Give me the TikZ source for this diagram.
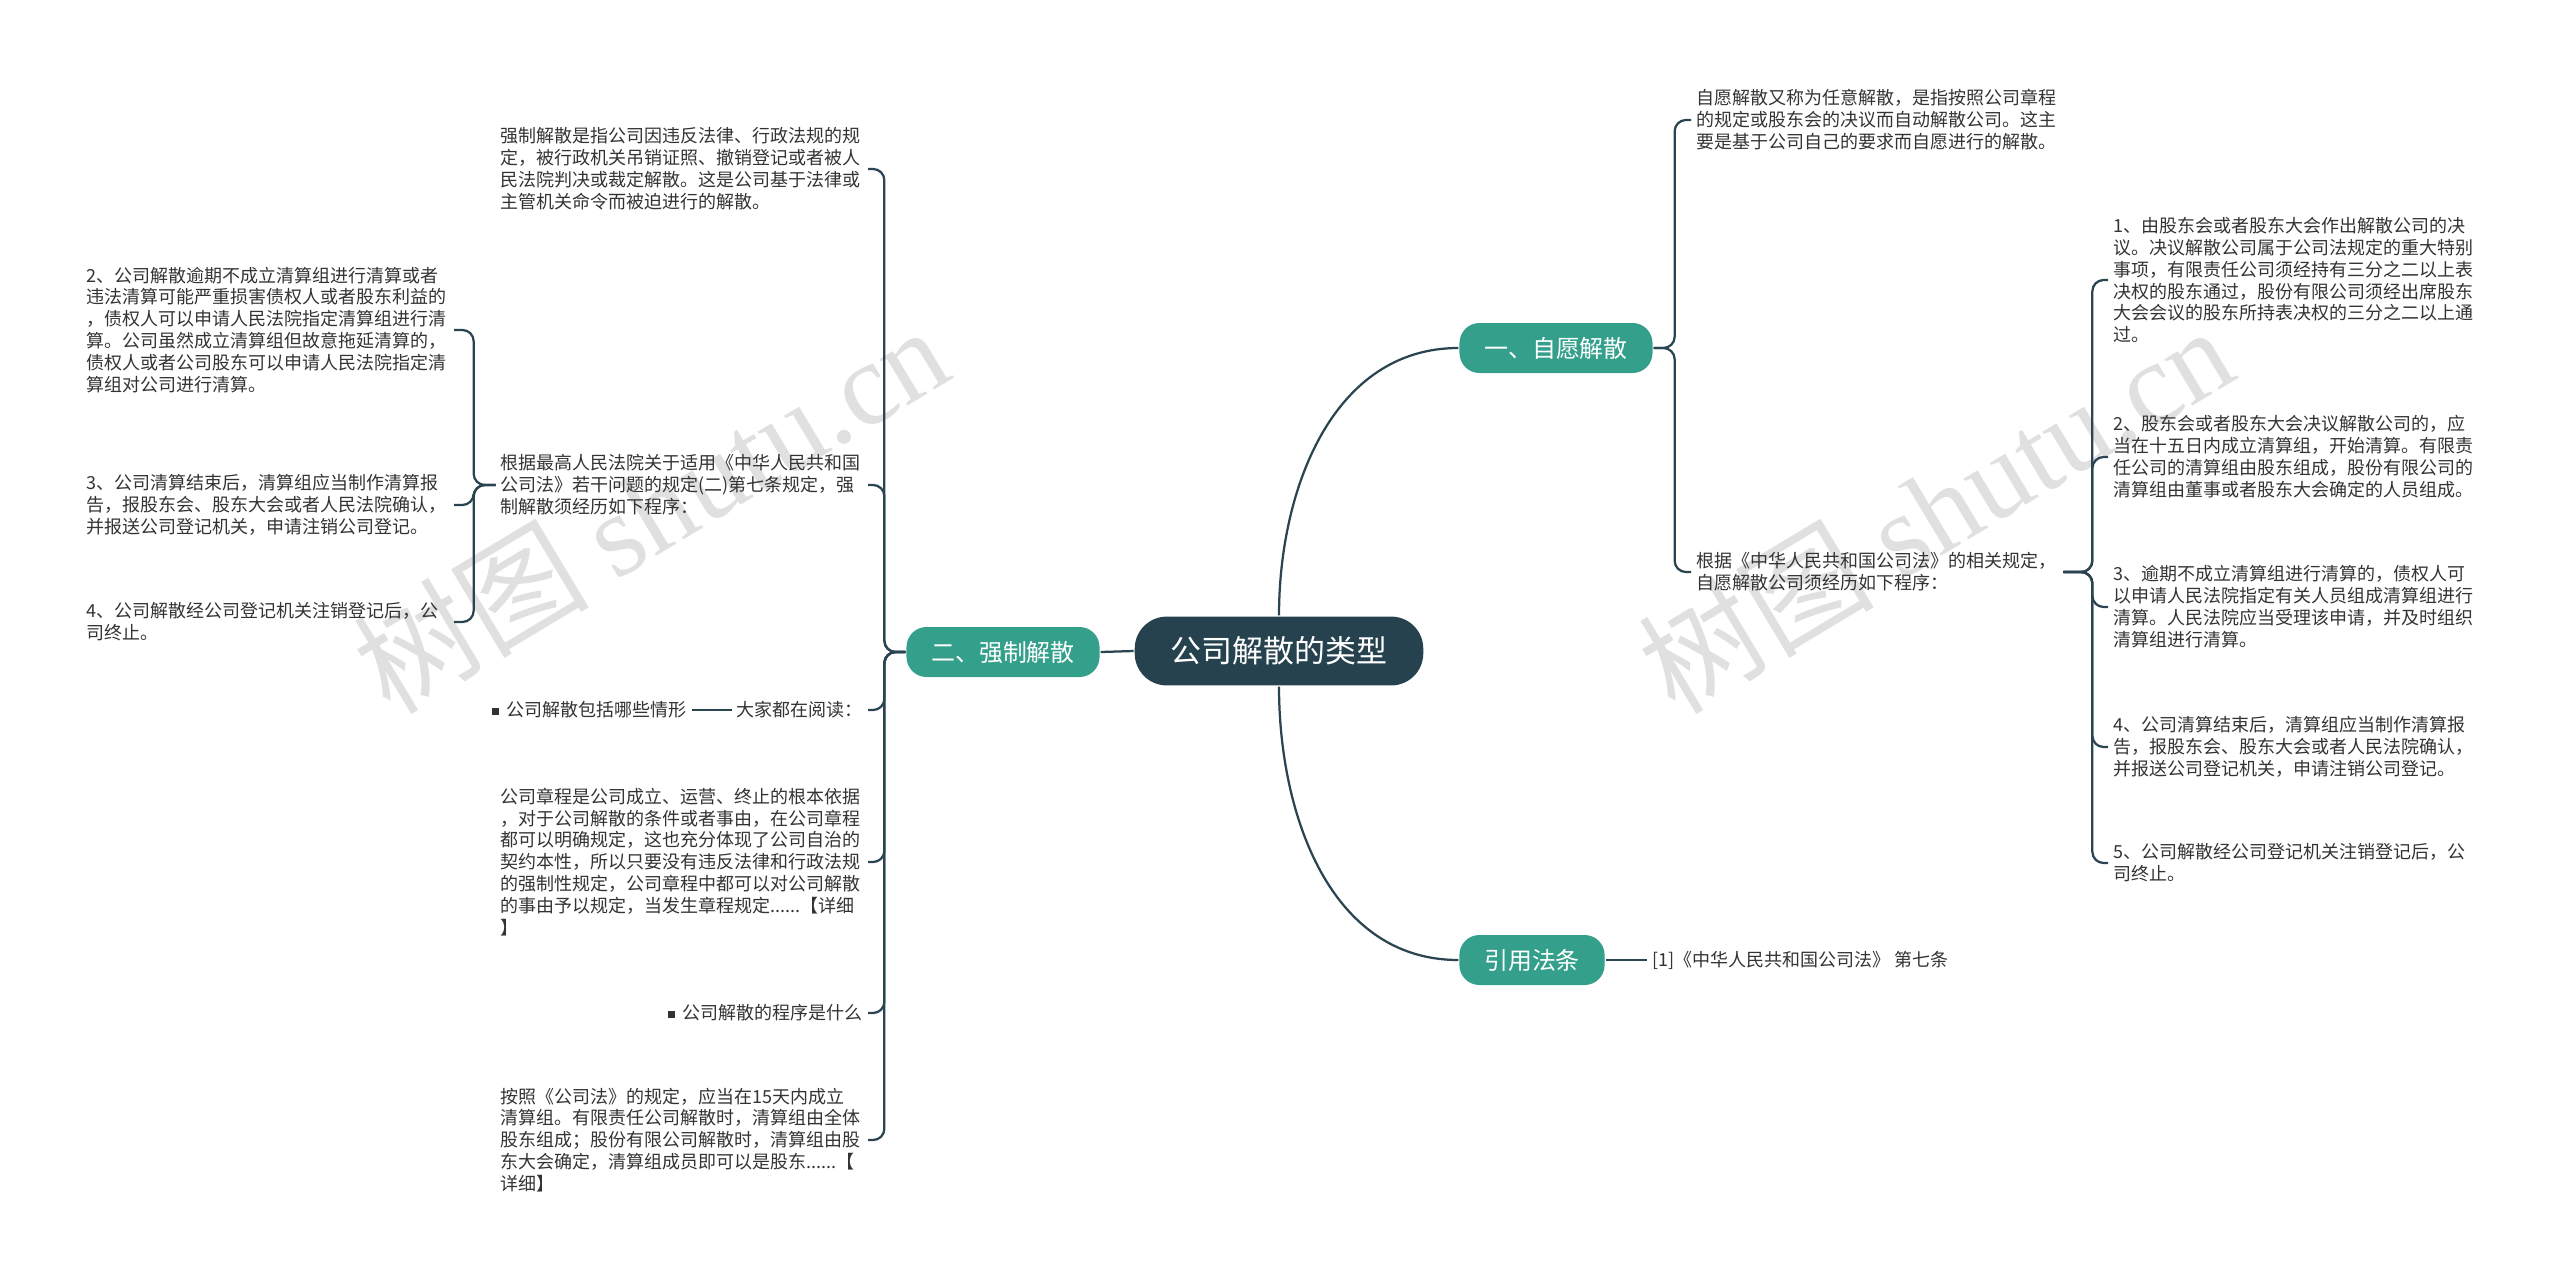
\documentclass[tikz,border=0pt]{standalone}
\usepackage{fontspec}
\setmainfont{Noto Sans CJK SC}
\newfontfamily\wmserif{Liberation Serif}
\definecolor{rootfill}{HTML}{26424F}
\definecolor{branchfill}{HTML}{34A08B}
\definecolor{linecol}{HTML}{2B4451}
\definecolor{textcol}{HTML}{333333}
\definecolor{wmcol}{HTML}{E0E0E0}
\newcommand{\leaffont}{\fontsize{12.8}{15.6}\selectfont}
\newcommand{\sqbox}{\rule[1.2pt]{5pt}{5pt}\hspace{0.45em}}
\tikzset{
  every picture/.style={line width=1.6pt},
  rootnode/.style={fill=rootfill, text=white, font=\fontsize{22}{26}\selectfont,
                   rounded corners=0.8cm, minimum height=1.72cm, inner xsep=0.9cm},
  branchnode/.style={fill=branchfill, text=white, font=\fontsize{17}{20}\selectfont,
                     rounded corners=0.5cm, minimum height=1.25cm, inner xsep=0.62cm},
  leaftext/.style={font=\leaffont, text=textcol, align=left,
                   inner xsep=0.1cm, inner ysep=0.05cm},
  leafblock/.style={leaftext, text width=9.05cm},
  linkline/.style={draw=linecol, rounded corners=8pt},
  watermark/.style={text=wmcol, font=\fontsize{84}{90}\selectfont, rotate=31},
}

\begin{document}
\begin{tikzpicture}[x=0.025cm,y=-0.025cm]
\useasboundingbox (0,0) rectangle (2560,1284);
% watermark
\node[watermark] (wmL) at (650,508) {树图 {\wmserif shutu.cn}};
\node[watermark] (wmR) at (1935,508) {树图 {\wmserif shutu.cn}};

% root and main branches
\node[rootnode] (root) at (1279,651) {公司解散的类型};
\node[branchnode] (vol) at (1556,348) {一、自愿解散};
\node[branchnode] (forced) at (1003,652) {二、强制解散};
\node[branchnode] (law) at (1532,960) {引用法条};
\draw[linkline] (root.north) to[out=90,in=180] (vol.west);
\draw[linkline] (root.south) to[out=-90,in=180] (law.west);
\draw[linkline] (root.west) -- (forced.east);

% voluntary dissolution
\node[leafblock, anchor=west] (volDef) at (1691,120) {自愿解散又称为任意解散，是指按照公司章程\\
  的规定或股东会的决议而自动解散公司。这主\\
  要是基于公司自己的要求而自愿进行的解散。};
\node[leafblock, anchor=west] (volProc) at (1691,572) {根据《中华人民共和国公司法》的相关规定，\\
  自愿解散公司须经历如下程序：};
\draw[linkline] (vol.east) -- ++(21,0) |- (volDef.west);
\draw[linkline] (vol.east) -- ++(21,0) |- (volProc.west);

\node[leafblock, anchor=west] (step1) at (2108,280) {1、由股东会或者股东大会作出解散公司的决\\
  议。决议解散公司属于公司法规定的重大特别\\
  事项，有限责任公司须经持有三分之二以上表\\
  决权的股东通过，股份有限公司须经出席股东\\
  大会会议的股东所持表决权的三分之二以上通\\
  过。};
\node[leafblock, anchor=west] (step2) at (2108,457) {2、股东会或者股东大会决议解散公司的，应\\
  当在十五日内成立清算组，开始清算。有限责\\
  任公司的清算组由股东组成，股份有限公司的\\
  清算组由董事或者股东大会确定的人员组成。};
\node[leafblock, anchor=west] (step3) at (2108,607) {3、逾期不成立清算组进行清算的，债权人可\\
  以申请人民法院指定有关人员组成清算组进行\\
  清算。人民法院应当受理该申请，并及时组织\\
  清算组进行清算。};
\node[leafblock, anchor=west] (step4) at (2108,747) {4、公司清算结束后，清算组应当制作清算报\\
  告，报股东会、股东大会或者人民法院确认，\\
  并报送公司登记机关，申请注销公司登记。};
\node[leafblock, anchor=west] (step5) at (2108,863) {5、公司解散经公司登记机关注销登记后，公\\
  司终止。};
\foreach \s in {1,...,5}
  \draw[linkline] (volProc.east) -- ++(29,0) |- (step\s.west);

% forced dissolution
\node[leafblock, anchor=east] (fDef) at (868,169) {强制解散是指公司因违反法律、行政法规的规\\
  定，被行政机关吊销证照、撤销登记或者被人\\
  民法院判决或裁定解散。这是公司基于法律或\\
  主管机关命令而被迫进行的解散。};
\node[leafblock, anchor=east] (fProc) at (868,485) {根据最高人民法院关于适用《中华人民共和国\\
  公司法》若干问题的规定(二)第七条规定，强\\
  制解散须经历如下程序：};
\node[leaftext, anchor=east] (fRead) at (868,710) {大家都在阅读：};
\node[leaftext, anchor=east] (fQ1) at (692,710) {\sqbox 公司解散包括哪些情形};
\node[leafblock, anchor=east] (fArt) at (868,862) {公司章程是公司成立、运营、终止的根本依据\\
  ，对于公司解散的条件或者事由，在公司章程\\
  都可以明确规定，这也充分体现了公司自治的\\
  契约本性，所以只要没有违反法律和行政法规\\
  的强制性规定，公司章程中都可以对公司解散\\
  的事由予以规定，当发生章程规定......【详细\\
  】};
\node[leaftext, anchor=east] (fQ2) at (868,1013) {\sqbox 公司解散的程序是什么};
\node[leafblock, anchor=east] (fAns) at (868,1140) {按照《公司法》的规定，应当在15天内成立\\
  清算组。有限责任公司解散时，清算组由全体\\
  股东组成；股份有限公司解散时，清算组由股\\
  东大会确定，清算组成员即可以是股东......【\\
  详细】};
\foreach \n in {fDef,fProc,fRead,fArt,fQ2,fAns}
  \draw[linkline] (forced.west) -- ++(-21,0) |- (\n.east);
\draw[linkline] (fRead.west) -- (fQ1.east);

\node[leafblock, anchor=east] (fStep2) at (454,330) {2、公司解散逾期不成立清算组进行清算或者\\
  违法清算可能严重损害债权人或者股东利益的\\
  ，债权人可以申请人民法院指定清算组进行清\\
  算。公司虽然成立清算组但故意拖延清算的，\\
  债权人或者公司股东可以申请人民法院指定清\\
  算组对公司进行清算。};
\node[leafblock, anchor=east] (fStep3) at (454,505) {3、公司清算结束后，清算组应当制作清算报\\
  告，报股东会、股东大会或者人民法院确认，\\
  并报送公司登记机关，申请注销公司登记。};
\node[leafblock, anchor=east] (fStep4) at (454,622) {4、公司解散经公司登记机关注销登记后，公\\
  司终止。};
\foreach \n in {2,3,4}
  \draw[linkline] (fProc.west) -- ++(-22,0) |- (fStep\n.east);

% cited law
\node[leaftext, anchor=west] (lawRef) at (1647,960) {[1]《中华人民共和国公司法》 第七条};
\draw[linkline] (law.east) -- (lawRef.west);
\end{tikzpicture}
\end{document}
